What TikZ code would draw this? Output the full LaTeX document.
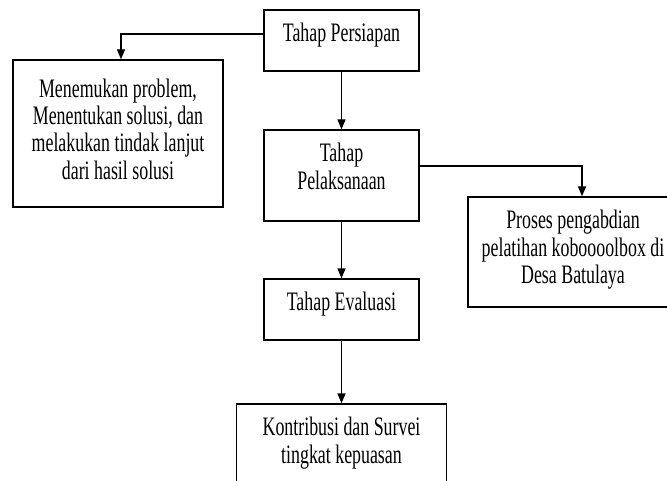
\documentclass[tikz,border=0pt]{standalone}
\usepackage{fontspec}
\setmainfont{Liberation Serif}[FakeStretch=0.67]
\usetikzlibrary{arrows.meta}
\newcommand{\stagetext}[4][10pt]{\parbox[c][#3][t]{#2}{\centering\vspace*{#1}#4}}
\tikzset{
  stage/.style={draw, line width=1pt, inner sep=0pt, font=\fontsize{20}{20.5}\selectfont},
  arr/.style={-{Triangle[length=7.5pt,width=6pt]}, line width=1pt}
}
\begin{document}
\begin{tikzpicture}[x=0.75pt,y=-0.75pt]
\useasboundingbox (0,0) rectangle (667,481);
\clip (0,0) rectangle (667,481);
\node[stage] (prep) at (341.5,40.5) {\stagetext{116.25pt}{45.75pt}{Tahap Persiapan}};
\node[stage] (find) at (118,133.5) {\stagetext[14pt]{157.5pt}{110.25pt}{Menemukan problem,\\ Menentukan solusi, dan\\ melakukan tindak lanjut\\ dari hasil solusi}};
\node[stage] (exec) at (341.5,175.5) {\stagetext{116.25pt}{68.25pt}{Tahap\\ Pelaksanaan}};
\node[stage] (proc) at (573,252) {\stagetext{157.5pt}{82.5pt}{Proses pengabdian\\ pelatihan koboooolbox di\\ Desa Batulaya}};
\node[stage] (eval) at (341.5,309.5) {\stagetext{116.25pt}{45.75pt}{Tahap Evaluasi}};
\node[stage] (contr) at (341.5,459) {\stagetext{157.5pt}{82.5pt}{Kontribusi dan Survei\\ tingkat kepuasan}};

\draw[arr] ([yshift=4.9pt]prep.west) -| ([xshift=2.25pt]find.north);
\draw[arr] (prep) -- (exec);
\draw[arr] ([yshift=7.1pt]exec.east) -| ([xshift=6.75pt]proc.north);
\draw[arr] (exec) -- (eval);
\draw[arr] (eval) -- (contr);
\end{tikzpicture}
\end{document}
